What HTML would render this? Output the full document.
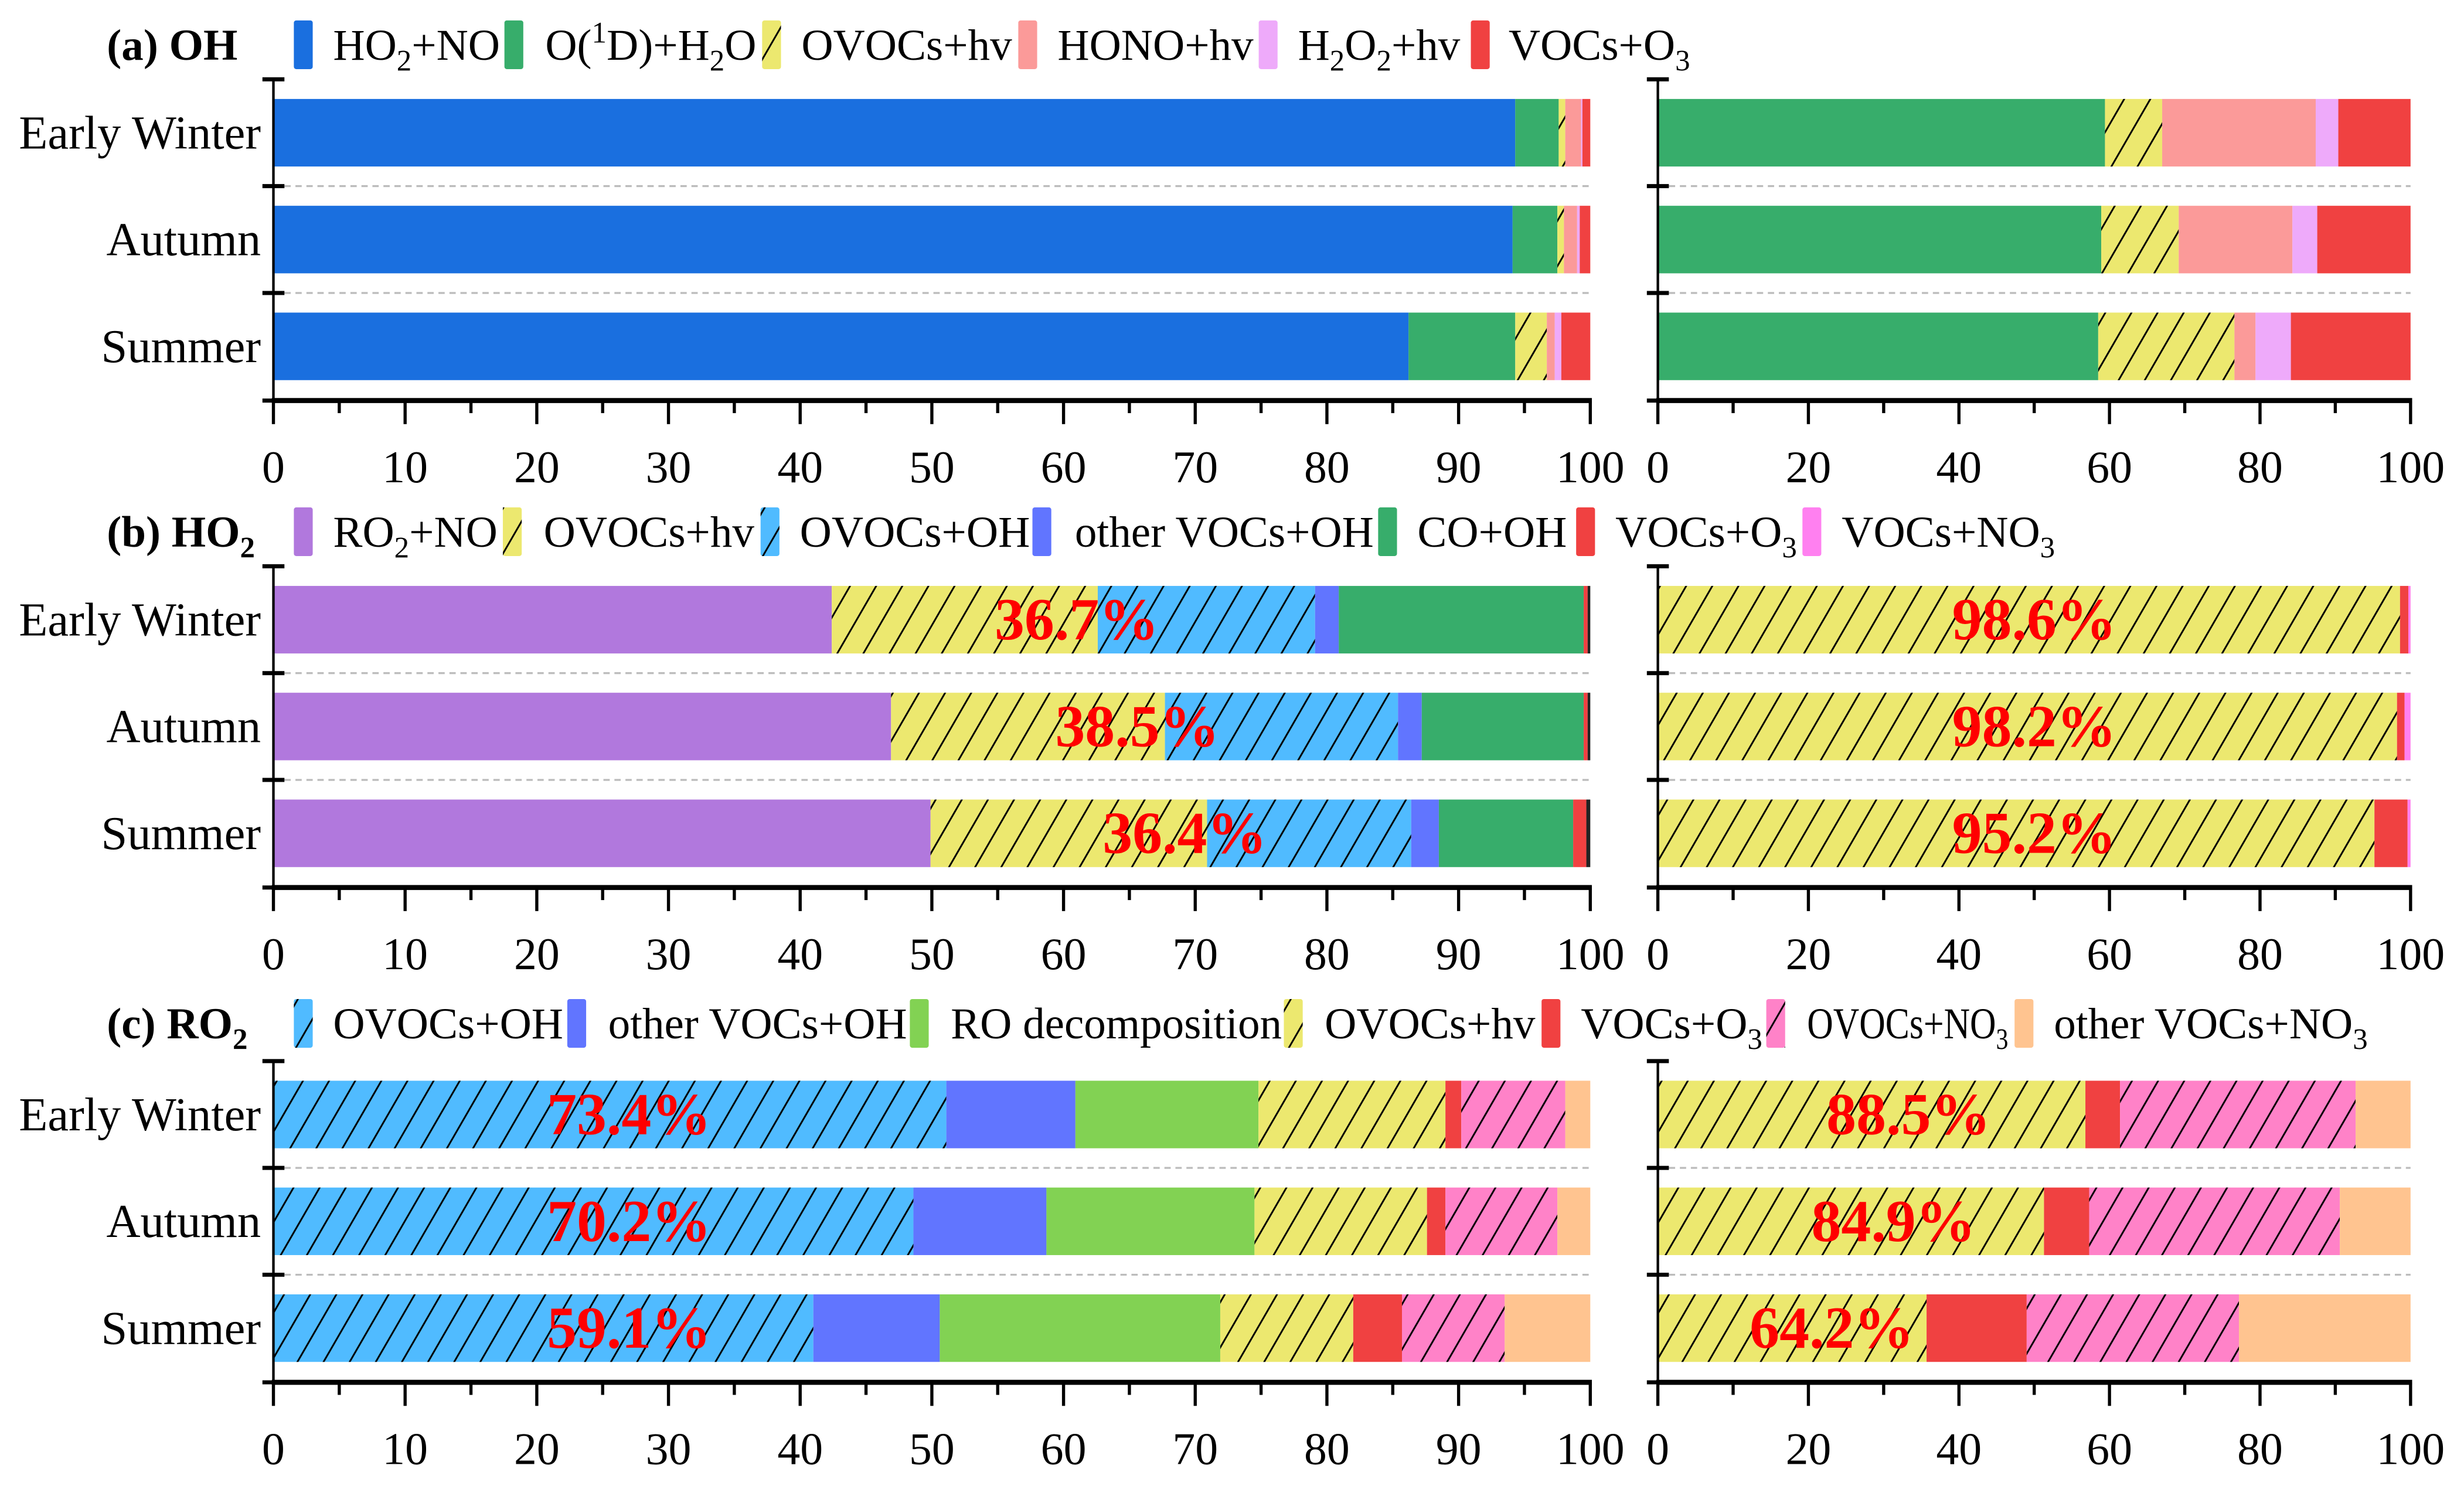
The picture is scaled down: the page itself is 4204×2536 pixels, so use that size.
<!DOCTYPE html>
<html><head><meta charset="utf-8"><style>
html,body{margin:0;padding:0;background:#fff;}
svg{display:block;}
text{font-family:"Liberation Serif","DejaVu Serif",serif;}
</style></head><body>
<svg id="chart" width="4204" height="2536" viewBox="0 0 1568 946" preserveAspectRatio="none" xmlns="http://www.w3.org/2000/svg" font-family="Liberation Serif, serif">
<defs>
<pattern id="hatch" patternUnits="userSpaceOnUse" width="14.4" height="14.4" patternTransform="rotate(30)">
<line x1="7" y1="-2" x2="7" y2="17" stroke="#000" stroke-width="1.1"/>
</pattern>
</defs>
</svg>
<script>
const categories = ["Early Winter", "Autumn", "Summer"];
const leftTicks = [0,10,20,30,40,50,60,70,80,90,100];
const rightTicks = [0,20,40,60,80,100];

// (a) OH
const ohLeftHO2NO = [94.3, 94.1, 86.2];
const ohLeftO1D   = [3.3, 3.4, 8.1];
const ohLeftOVOC  = [0.5, 0.5, 2.4];
const ohLeftHONO  = [1.2, 1.0, 0.6];
const ohLeftH2O2  = [0.1, 0.2, 0.5];
const ohLeftO3    = [0.6, 0.8, 2.2];
const ohRightO1D  = [59.4, 58.9, 58.5];
const ohRightOVOC = [7.6, 10.3, 18.1];
const ohRightHONO = [20.4, 15.1, 2.8];
const ohRightH2O2 = [3.0, 3.3, 4.7];
const ohRightO3   = [9.6, 12.4, 15.9];

// (b) HO2
const ho2LeftRO2NO  = [42.4, 46.9, 49.9];
const ho2LeftOVOChv = [20.2, 20.8, 21.0];
const ho2LeftOVOCOH = [16.5, 17.7, 15.5];
const ho2LeftOther  = [1.8, 1.8, 2.1];
const ho2LeftCO     = [18.6, 12.3, 10.2];
const ho2LeftO3     = [0.3, 0.3, 1.0];
const ho2LeftNO3    = [0.2, 0.2, 0.3];
const ho2LeftLabels = ["36.7%","38.5%","36.4%"];
const ho2LeftLabelAt = [61.0, 65.6, 69.2];
const ho2RightOVOChv = [98.6, 98.2, 95.2];
const ho2RightO3     = [1.1, 1.0, 4.4];
const ho2RightNO3    = [0.3, 0.8, 0.4];
const ho2RightLabels = ["98.6%","98.2%","95.2%"];
const ho2RightLabelAt = [50, 50, 50];

// (c) RO2
const ro2LeftOVOCOH  = [51.1, 48.6, 41.0];
const ro2LeftOtherOH = [9.8, 10.1, 9.6];
const ro2LeftRO      = [13.9, 15.8, 21.3];
const ro2LeftOVOChv  = [14.2, 13.1, 10.1];
const ro2LeftO3      = [1.2, 1.4, 3.7];
const ro2LeftOVOCNO3 = [7.9, 8.5, 7.8];
const ro2LeftOtherNO3= [1.9, 2.5, 6.5];
const ro2LeftLabels  = ["73.4%","70.2%","59.1%"];
const ro2LeftLabelAt = [27, 27, 27];
const ro2RightOVOChv  = [56.8, 51.3, 35.7];
const ro2RightO3      = [4.6, 6.0, 13.3];
const ro2RightOVOCNO3 = [31.3, 33.3, 28.2];
const ro2RightOtherNO3= [7.3, 9.4, 22.8];
const ro2RightLabels  = ["88.5%","84.9%","64.2%"];
const ro2RightLabelAt = [33.3, 31.3, 23.1];

const C = {blue:"#1a6fdf", green:"#37ad6b", yellow:"#ece86f", pink:"#fb9a99", violet:"#eeaafa", red:"#f04141",
  purple:"#b178dd", lblue:"#50bbff", oblue:"#6175ff", lgreen:"#82d253", hpink:"#ff82c8", peach:"#ffc490", mag:"#ff80f0"};

const svg = document.getElementById('chart');
const NS = "http://www.w3.org/2000/svg";
function mk(tag, attrs, parent){
  const e = document.createElementNS(NS, tag);
  for (const k in attrs) e.setAttribute(k, attrs[k]);
  (parent||svg).appendChild(e);
  return e;
}
const L = {x0:174, x1:1012}, R = {x0:1055, x1:1534};
function xs(ax, v){ return ax.x0 + (ax.x1-ax.x0)*v/100; }

function panel(off, ax, ticks, minorStep, series, labels, labelAt, pname){
  const g = mk('g', {});
  
  
  const barTop = [63, 131, 199];
  [118.5, 186.5].forEach(function(y){
    const s = mk('line', {x1:ax.x0, x2:ax.x1, y1:y+off, y2:y+off, stroke:"#bbbbbb", "stroke-width":1.2, "stroke-dasharray":"4 3"}, g);
    
    
  });
  categories.forEach(function(cat, i){
    let acc = 0;
    series.forEach(function(s){
      const v = s.values[i];
      const xa = xs(ax, acc), xb = xs(ax, acc+v);
      const r = mk('rect', {x:xa, y:barTop[i]+off, width:Math.max(0,xb-xa), height:43, fill:s.color}, g);
      
      
      if (s.hatch && xb-xa > 0.5){
        const h = mk('rect', {x:xa, y:barTop[i]+off, width:xb-xa, height:43, fill:"url(#hatch)"}, g);
        
        
      }
      acc += v;
    });
    if (labels){
      const t = mk('text', {x:xs(ax, labelAt[i]), y:barTop[i]+off+34, "font-size":38, "font-weight":"bold", fill:"#ff0000", "text-anchor":"middle"}, g);
      t.textContent = labels[i];
      
      
    }
  });
  const ya = mk('line', {x1:ax.x0, x2:ax.x0, y1:50+off, y2:256+off, stroke:"#000", "stroke-width":1.6}, g);
  
  
  [50.5, 118.5, 186.5, 255].forEach(function(y){
    const t = mk('line', {x1:ax.x0-7, x2:ax.x0+7, y1:y+off, y2:y+off, stroke:"#000", "stroke-width":2.6}, g);
    
    
  });
  const xa = mk('line', {x1:ax.x0-1, x2:ax.x1+1, y1:255+off, y2:255+off, stroke:"#000", "stroke-width":3.2}, g);
  
  
  for (let v = 0; v <= 100.001; v += minorStep){
    const major = ticks.indexOf(Math.round(v)) >= 0;
    const t = mk('line', {x1:xs(ax,v), x2:xs(ax,v), y1:255+off, y2:(major?270:263)+off, stroke:"#000", "stroke-width":2}, g);
    
    
  }
  ticks.forEach(function(v){
    const t = mk('text', {x:xs(ax,v), y:307+off, "font-size":29, "text-anchor":"middle", fill:"#000"}, g);
    t.textContent = v;
    
    
  });
}

function catLabels(off){
  const ys = [84.5, 152.5, 220.5];
  categories.forEach(function(c, i){
    const t = mk('text', {x:166, y:ys[i]+off+10, "font-size":30, "text-anchor":"end", fill:"#000"});
    t.textContent = c;
    
    
  });
}

function richText(t, parts, baseSize){
  let shift = 0;
  parts.forEach(function(p){
    const ts = document.createElementNS(NS, 'tspan');
    let target = 0, size = baseSize;
    if (p[1] === 'sub'){ target = 7; size = Math.round(baseSize*0.68); }
    else if (p[1] === 'sup'){ target = -11; size = Math.round(baseSize*0.68); }
    ts.setAttribute('font-size', size);
    ts.setAttribute('dy', target - shift);
    shift = target;
    ts.textContent = p[0];
    t.appendChild(ts);
  });
}
function legend(off, items){
  items.forEach(function(it){
    const g = mk('g', {});
    
    
    mk('rect', {x:it.sx, y:13+off, width:12, height:31, rx:1.5, fill:it.color}, g);
    if (it.hatch) mk('rect', {x:it.sx, y:13+off, width:12, height:31, fill:"url(#hatch)"}, g);
    const fs = it.fs || 28;
    const attrs = {x:it.tx, y:38+off, "font-size":fs, fill:"#000"};
    if (it.tl){ attrs.textLength = it.tl; attrs.lengthAdjust = "spacingAndGlyphs"; }
    const t = mk('text', attrs, g);
    richText(t, it.parts, fs);
  });
}
function title(off, parts){
  const t = mk('text', {x:68, y:38+off, "font-size":28, "font-weight":"bold", fill:"#000"});
  
  
  richText(t, parts, 28);
}

// Panel a
title(0, [["(a) OH"]]);
legend(0, [
  {sx:187, tx:212, color:C.blue, parts:[["HO"],["2","sub"],["+NO"]]},
  {sx:321, tx:347, color:C.green, parts:[["O("],["1","sup"],["D)+H"],["2","sub"],["O"]]},
  {sx:485, tx:510, color:C.yellow, hatch:true, parts:[["OVOCs+hv"]]},
  {sx:648, tx:673, color:C.pink, parts:[["HONO+hv"]]},
  {sx:801, tx:826, color:C.violet, parts:[["H"],["2","sub"],["O"],["2","sub"],["+hv"]]},
  {sx:936, tx:960, color:C.red, parts:[["VOCs+O"],["3","sub"]]}
]);
catLabels(0);
panel(0, L, leftTicks, 5, [
  {key:"ho2-no", values:ohLeftHO2NO, color:C.blue},
  {key:"o1d-h2o", values:ohLeftO1D, color:C.green},
  {key:"ovocs-hv", values:ohLeftOVOC, color:C.yellow, hatch:true},
  {key:"hono-hv", values:ohLeftHONO, color:C.pink},
  {key:"h2o2-hv", values:ohLeftH2O2, color:C.violet},
  {key:"vocs-o3", values:ohLeftO3, color:C.red}
], null, null, 'oh-left-panel');
panel(0, R, rightTicks, 10, [
  {key:"o1d-h2o", values:ohRightO1D, color:C.green},
  {key:"ovocs-hv", values:ohRightOVOC, color:C.yellow, hatch:true},
  {key:"hono-hv", values:ohRightHONO, color:C.pink},
  {key:"h2o2-hv", values:ohRightH2O2, color:C.violet},
  {key:"vocs-o3", values:ohRightO3, color:C.red}
], null, null, 'oh-right-panel');

// Panel b
const OB = 310;
title(OB, [["(b) HO"],["2","sub"]]);
legend(OB, [
  {sx:187, tx:212, color:C.purple, parts:[["RO"],["2","sub"],["+NO"]]},
  {sx:320, tx:346, color:C.yellow, hatch:true, parts:[["OVOCs+hv"]]},
  {sx:484, tx:509, color:C.lblue, hatch:true, parts:[["OVOCs+OH"]]},
  {sx:657, tx:684, color:C.oblue, parts:[["other VOCs+OH"]]},
  {sx:877, tx:902, color:C.green, parts:[["CO+OH"]]},
  {sx:1003, tx:1028, color:C.red, parts:[["VOCs+O"],["3","sub"]]},
  {sx:1147, tx:1172, color:C.mag, parts:[["VOCs+NO"],["3","sub"]]}
]);
catLabels(OB);
panel(OB, L, leftTicks, 5, [
  {key:"ro2-no", values:ho2LeftRO2NO, color:C.purple},
  {key:"ovocs-hv", values:ho2LeftOVOChv, color:C.yellow, hatch:true},
  {key:"ovocs-oh", values:ho2LeftOVOCOH, color:C.lblue, hatch:true},
  {key:"other-vocs-oh", values:ho2LeftOther, color:C.oblue},
  {key:"co-oh", values:ho2LeftCO, color:C.green},
  {key:"vocs-o3", values:ho2LeftO3, color:C.red},
  {key:"vocs-no3", values:ho2LeftNO3, color:"#222"}
], ho2LeftLabels, ho2LeftLabelAt, 'ho2-left-panel');
panel(OB, R, rightTicks, 10, [
  {key:"ovocs-hv", values:ho2RightOVOChv, color:C.yellow, hatch:true},
  {key:"vocs-o3", values:ho2RightO3, color:C.red},
  {key:"vocs-no3", values:ho2RightNO3, color:C.mag}
], ho2RightLabels, ho2RightLabelAt, 'ho2-right-panel');

// Panel c
const OC = 623;
title(OC, [["(c) RO"],["2","sub"]]);
legend(OC, [
  {sx:187, tx:212, color:C.lblue, hatch:true, parts:[["OVOCs+OH"]]},
  {sx:361, tx:387, color:C.oblue, parts:[["other VOCs+OH"]]},
  {sx:579, tx:605, color:C.lgreen, parts:[["RO decomposition"]]},
  {sx:817, tx:843, color:C.yellow, hatch:true, parts:[["OVOCs+hv"]]},
  {sx:981, tx:1006, color:C.red, parts:[["VOCs+O"],["3","sub"]]},
  {sx:1124, tx:1150, color:C.hpink, hatch:true, tl:128, parts:[["OVOCs+NO"],["3","sub"]]},
  {sx:1282, tx:1307, color:C.peach, parts:[["other VOCs+NO"],["3","sub"]]}
]);
const OC2 = 625;
catLabels(OC2);
panel(OC2, L, leftTicks, 5, [
  {key:"ovocs-oh", values:ro2LeftOVOCOH, color:C.lblue, hatch:true},
  {key:"other-vocs-oh", values:ro2LeftOtherOH, color:C.oblue},
  {key:"ro-decomposition", values:ro2LeftRO, color:C.lgreen},
  {key:"ovocs-hv", values:ro2LeftOVOChv, color:C.yellow, hatch:true},
  {key:"vocs-o3", values:ro2LeftO3, color:C.red},
  {key:"ovocs-no3", values:ro2LeftOVOCNO3, color:C.hpink, hatch:true},
  {key:"other-vocs-no3", values:ro2LeftOtherNO3, color:C.peach}
], ro2LeftLabels, ro2LeftLabelAt, 'ro2-left-panel');
panel(OC2, R, rightTicks, 10, [
  {key:"ovocs-hv", values:ro2RightOVOChv, color:C.yellow, hatch:true},
  {key:"vocs-o3", values:ro2RightO3, color:C.red},
  {key:"ovocs-no3", values:ro2RightOVOCNO3, color:C.hpink, hatch:true},
  {key:"other-vocs-no3", values:ro2RightOtherNO3, color:C.peach}
], ro2RightLabels, ro2RightLabelAt, 'ro2-right-panel');
</script>
</body></html>
